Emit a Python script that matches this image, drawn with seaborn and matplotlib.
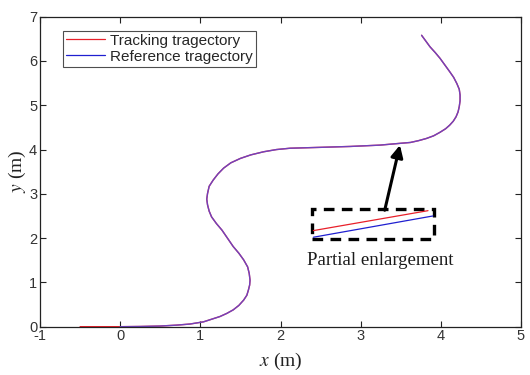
import matplotlib
matplotlib.use("Agg")
import matplotlib.pyplot as plt
import seaborn as sns
import pandas as pd
from matplotlib.patches import Rectangle

# Reference trajectory (m)
ref_x = [0.0, 0.25, 0.5, 0.7, 0.87, 1.04, 1.245, 1.33, 1.41, 1.48, 1.54, 1.58,
         1.60, 1.615, 1.62, 1.61, 1.59, 1.54, 1.48, 1.41, 1.27, 1.20, 1.14,
         1.11, 1.09, 1.08, 1.09, 1.11, 1.16, 1.22, 1.29, 1.38, 1.50, 1.63,
         1.79, 1.95, 2.12, 2.5, 2.87, 3.24, 3.49, 3.62, 3.72, 3.82, 3.91,
         3.99, 4.06, 4.11, 4.155, 4.19, 4.215, 4.23, 4.24, 4.24, 4.23, 4.20,
         4.16, 4.11, 4.05, 3.99, 3.93, 3.865, 3.76]
ref_y = [0.0, 0.005, 0.015, 0.035, 0.06, 0.11, 0.23, 0.30, 0.38, 0.48, 0.60,
         0.71, 0.83, 0.94, 1.05, 1.20, 1.35, 1.51, 1.66, 1.81, 2.18, 2.33,
         2.48, 2.61, 2.75, 2.88, 3.01, 3.17, 3.31, 3.45, 3.58, 3.70, 3.80,
         3.88, 3.95, 4.00, 4.03, 4.05, 4.07, 4.10, 4.14, 4.16, 4.20, 4.25,
         4.31, 4.39, 4.47, 4.55, 4.64, 4.74, 4.85, 4.97, 5.10, 5.23, 5.36,
         5.49, 5.63, 5.76, 5.91, 6.06, 6.19, 6.32, 6.58]

# Tracking trajectory: starts behind the reference, then converges onto it
trk_x = [-0.5, -0.25] + ref_x
trk_y = [0.0, 0.0] + ref_y

# Zoomed segment shown inside the dashed box
zoom_trk_x = [2.41, 3.84]
zoom_trk_y = [2.17, 2.62]
zoom_ref_x = [2.41, 3.90]
zoom_ref_y = [2.02, 2.50]

x_ticks = [-1, 0, 1, 2, 3, 4, 5]
y_ticks = [0, 1, 2, 3, 4, 5, 6, 7]

RED = "#e8202a"
BLUE = "#1f1fd0"

sns.set_theme(style="white")
plt.rcParams["font.family"] = ["Liberation Sans", "DejaVu Sans"]
plt.rcParams["axes.unicode_minus"] = False
plt.rcParams["mathtext.fontset"] = "stix"

fig = plt.figure(figsize=(5.3, 3.75), dpi=100)
ax = fig.add_axes([0.0755, 0.1288, 0.9075, 0.8267])

df_trk = pd.DataFrame({"x": trk_x, "y": trk_y})
df_ref = pd.DataFrame({"x": ref_x, "y": ref_y})

sns.lineplot(data=df_trk, x="x", y="y", sort=False, estimator=None,
             color=RED, lw=1.0, ax=ax, label="Tracking tragectory")
sns.lineplot(data=df_ref, x="x", y="y", sort=False, estimator=None,
             color="#5a48d8", lw=1.0, alpha=0.85, ax=ax,
             label="Reference tragectory")

# Partial enlargement
ax.plot(zoom_trk_x, zoom_trk_y, color=RED, lw=0.9)
ax.plot(zoom_ref_x, zoom_ref_y, color=BLUE, lw=0.9)
ax.add_patch(Rectangle((2.39, 1.97), 3.91 - 2.39, 2.65 - 1.97, fill=False,
                       edgecolor="black", lw=2.4, linestyle=(0, (3.2, 2.2))))
ax.annotate("", xy=(3.49, 4.10), xytext=(3.30, 2.63),
            arrowprops=dict(arrowstyle="-|>", color="black", lw=2.2,
                            mutation_scale=18, shrinkA=0, shrinkB=0))
serif = ["Liberation Serif", "DejaVu Serif"]
ax.text(3.24, 1.50, "Partial enlargement", ha="center", va="center",
        fontsize=13.5, family=serif, color="#1a1a1a")

ax.set_xlim(-1, 5)
ax.set_ylim(0, 7)
ax.set_xticks(x_ticks)
ax.set_yticks(y_ticks)
ax.tick_params(direction="in", length=4, width=0.8, top=True, right=True,
               bottom=True, left=True, labelsize=10.5, labelcolor="#333333",
               pad=2, color="#222222")
for s in ax.spines.values():
    s.set_color("#222222")
    s.set_linewidth(0.9)

ax.set_xlabel(r"$x$ (m)", fontsize=14, family=serif, color="#222222",
              labelpad=5)
ax.set_ylabel(r"$y$ (m)", fontsize=14, family=serif, color="#222222",
              labelpad=1)

leg = ax.legend(loc="upper left", bbox_to_anchor=(0.047, 0.955), fontsize=11,
                frameon=True, fancybox=False, edgecolor="#222222",
                handlelength=2.6, handletextpad=0.3, borderpad=0.2,
                labelspacing=0.12, borderaxespad=0)
leg.get_frame().set_linewidth(0.8)
for h, c in zip(leg.get_lines(), [RED, BLUE]):
    h.set_alpha(1)
    h.set_color(c)
    h.set_linewidth(0.9)

fig.savefig("out.png", dpi=100)
